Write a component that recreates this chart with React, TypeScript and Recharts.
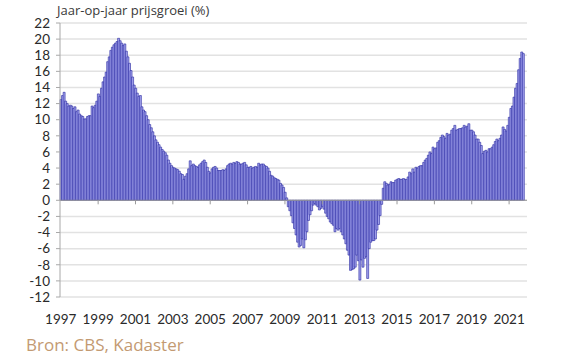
import { BarChart, Bar, XAxis, YAxis, CartesianGrid, ReferenceLine } from "recharts";

// jaar-op-jaar prijsgroei per maand (%)
const Y1997 = [12.5, 13.0, 13.4, 12.3, 12.0, 11.7, 11.8, 11.7, 11.4, 11.6, 11.0, 11.2];
const Y1998 = [10.7, 10.5, 10.4, 10.1, 10.1, 10.4, 10.5, 10.5, 11.7, 11.5, 11.8, 12.3];
const Y1999 = [13.2, 12.9, 13.9, 14.7, 15.3, 15.9, 17.2, 17.8, 18.6, 19.0, 19.3, 19.5];
const Y2000 = [19.7, 20.1, 19.8, 19.5, 19.2, 19.4, 18.5, 17.8, 17.0, 16.1, 15.3, 14.3];
const Y2001 = [13.9, 13.3, 12.9, 13.0, 11.6, 11.2, 11.0, 10.5, 10.0, 9.4, 9.0, 8.5];
const Y2002 = [8.0, 7.5, 7.2, 6.9, 6.6, 6.3, 6.1, 5.9, 5.6, 5.0, 4.6, 4.3];
const Y2003 = [4.1, 4.0, 3.9, 3.8, 3.6, 3.3, 3.2, 2.6, 3.0, 3.3, 3.9, 4.9];
const Y2004 = [4.3, 4.5, 4.3, 4.2, 4.1, 4.4, 4.6, 4.8, 5.0, 4.7, 4.1, 3.6];
const Y2005 = [3.4, 3.9, 4.1, 4.2, 4.0, 3.7, 3.7, 3.7, 3.8, 3.7, 3.9, 4.3];
const Y2006 = [4.5, 4.6, 4.5, 4.7, 4.6, 4.8, 4.7, 4.5, 4.5, 4.6, 4.7, 4.4];
const Y2007 = [4.1, 4.1, 4.2, 4.0, 4.1, 4.2, 4.1, 4.6, 4.4, 4.5, 4.5, 4.3];
const Y2008 = [4.2, 4.0, 3.6, 3.1, 3.0, 2.8, 2.7, 2.6, 2.5, 2.1, 1.9, 1.6];
const Y2009 = [1.0, 0.3, -0.8, -1.3, -1.9, -2.8, -3.5, -4.3, -5.2, -5.8, -5.6, -4.8];
const Y2010 = [-5.9, -4.9, -3.9, -2.5, -1.8, -1.3, -0.6, -0.4, -0.6, -0.8, -1.2, -1.0];
const Y2011 = [-0.8, -1.1, -1.6, -2.0, -2.3, -2.7, -2.9, -3.1, -3.9, -3.5, -3.7, -3.5];
const Y2012 = [-3.9, -4.3, -4.8, -5.4, -6.2, -6.8, -8.7, -8.6, -8.5, -8.3, -6.8, -7.5];
const Y2013 = [-9.9, -7.4, -8.3, -7.2, -7.0, -9.7, -6.0, -5.2, -5.0, -5.0, -4.8, -3.7];
const Y2014 = [-3.0, -1.9, -0.5, 1.5, 2.3, 2.1, 1.9, 2.0, 2.3, 2.2, 2.2, 2.5];
const Y2015 = [2.6, 2.7, 2.6, 2.6, 2.7, 2.6, 2.6, 2.9, 3.5, 3.3, 3.9, 3.5];
const Y2016 = [4.1, 4.0, 4.2, 4.3, 4.3, 4.7, 5.0, 5.2, 5.6, 6.0, 5.8, 6.6];
const Y2017 = [6.4, 6.5, 7.2, 7.4, 7.8, 8.1, 7.9, 7.7, 8.3, 8.1, 8.2, 8.7];
const Y2018 = [8.9, 9.3, 8.7, 8.8, 8.9, 8.9, 9.0, 9.3, 9.1, 9.2, 9.5, 8.7];
const Y2019 = [8.7, 8.5, 8.1, 7.6, 7.6, 7.2, 6.8, 5.8, 6.1, 6.2, 6.0, 6.4];
const Y2020 = [6.4, 6.6, 6.9, 7.3, 7.6, 7.4, 7.7, 8.1, 9.1, 8.8, 8.6, 9.3];
const Y2021 = [10.3, 11.4, 11.7, 12.8, 13.9, 14.5, 16.2, 17.6, 18.4, 18.2];

const YEARS = [
  1997, 1998, 1999, 2000, 2001, 2002, 2003, 2004, 2005, 2006, 2007, 2008, 2009,
  2010, 2011, 2012, 2013, 2014, 2015, 2016, 2017, 2018, 2019, 2020, 2021,
];
const BY_YEAR = [
  Y1997, Y1998, Y1999, Y2000, Y2001, Y2002, Y2003, Y2004, Y2005, Y2006, Y2007,
  Y2008, Y2009, Y2010, Y2011, Y2012, Y2013, Y2014, Y2015, Y2016, Y2017, Y2018,
  Y2019, Y2020, Y2021,
];

const X_TICKS = [
  "1997-01", "1999-01", "2001-01", "2003-01", "2005-01", "2007-01", "2009-01",
  "2011-01", "2013-01", "2015-01", "2017-01", "2019-01", "2021-01",
];
const Y_TICKS = [-12, -10, -8, -6, -4, -2, 0, 2, 4, 6, 8, 10, 12, 14, 16, 18, 20, 22];

const data = YEARS.flatMap((year, i) =>
  Array.from({ length: 12 }, (_, m) => ({
    month: `${year}-${String(m + 1).padStart(2, "0")}`,
    value: BY_YEAR[i][m] ?? null,
  }))
);

const FONT = "'Open Sans', 'Noto Sans', sans-serif";
const TICK_FONT = "Lato, 'Open Sans', sans-serif";

export default function App() {
  return (
    <div style={{ position: "absolute", left: 0, top: 0, width: 580, height: 357, background: "#fff", fontFamily: FONT }}>
      <div style={{ position: "absolute", left: 57, top: 1, fontSize: 13, color: "#3a3a3a" }}>
        Jaar-op-jaar prijsgroei (%)
      </div>
      <BarChart
        width={580}
        height={330}
        data={data}
        barCategoryGap={0}
        barGap={0}
        margin={{ top: 23, right: 53, left: 0, bottom: 0 }}
      >
        <CartesianGrid vertical={false} stroke="#e2e2e2" strokeWidth={1.5} />
        <XAxis
          dataKey="month"
          ticks={X_TICKS}
          interval={0}
          tickFormatter={(m: string) => m.slice(0, 4)}
          axisLine={false}
          tickLine={false}
          tickSize={0}
          tickMargin={17}
          height={33}
          tick={{ fill: "#2a2a2a", fontSize: 13.5, fontFamily: TICK_FONT }}
        />
        <YAxis
          domain={[-12, 22]}
          ticks={Y_TICKS}
          interval={0}
          width={60}
          axisLine={{ stroke: "#a8a8a8" }}
          tickLine={{ stroke: "#a8a8a8" }}
          tickSize={4}
          tickMargin={6}
          tick={{ fill: "#2a2a2a", fontSize: 13.5, fontFamily: TICK_FONT }}
        />
        <Bar
          dataKey="value"
          fill="#a2a2ec"
          stroke="#2626a0"
          strokeWidth={0.6}
          isAnimationActive={false}
        />
        <ReferenceLine y={0} stroke="#9a9a9a" strokeWidth={1} />
        {X_TICKS.slice(1).map((t) => (
          <ReferenceLine
            key={t}
            segment={[{ x: t, y: 0 }, { x: t, y: -0.5 }]}
            stroke="#9a9a9a"
            ifOverflow="visible"
          />
        ))}
      </BarChart>
      <div style={{ position: "absolute", left: 26, top: 333, fontSize: 17, color: "#c39a72" }}>
        Bron: CBS, Kadaster
      </div>
    </div>
  );
}
